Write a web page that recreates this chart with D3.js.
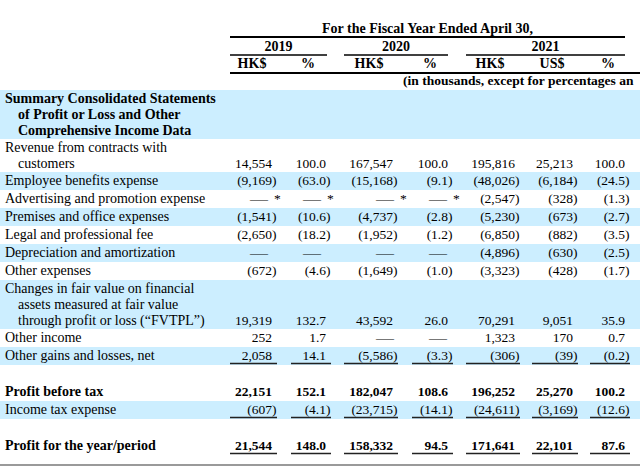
<!DOCTYPE html>
<html>
<head>
<meta charset="utf-8">
<script src="https://cdn.jsdelivr.net/npm/d3@7"></script>
<style>
  html, body { margin: 0; padding: 0; background: #fff; }
  svg { display: block; }
</style>
</head>
<body>
<svg id="chart" width="640" height="467"></svg>
<script>
// ---------- DATA ----------
const tableTitle = "For the Fiscal Year Ended April 30,";
const years = ["2019", "2020", "2021"];
const currencyHeaders = ["HK$", "%", "HK$", "%", "HK$", "US$", "%"];
const unitsNote = "(in thousands, except for percentages an";
const sectionTitle = ["Summary Consolidated Statements", "of Profit or Loss and Other", "Comprehensive Income Data"];

const rowLabels = [
  ["Revenue from contracts with", "customers"],
  ["Employee benefits expense"],
  ["Advertising and promotion expense"],
  ["Premises and office expenses"],
  ["Legal and professional fee"],
  ["Depreciation and amortization"],
  ["Other expenses"],
  ["Changes in fair value on financial", "assets measured at fair value", "through profit or loss (\u201cFVTPL\u201d)"],
  ["Other income"],
  ["Other gains and losses, net"],
  ["Profit before tax"],
  ["Income tax expense"],
  ["Profit for the year/period"]
];

// null = "—", "*" = "— *" (amount less than 0.1)
const hk2019  = [14554, -9169, "*", -1541, -2650, null, -672, 19319, 252, 2058, 22151, -607, 21544];
const pct2019 = [100.0, -63.0, "*", -10.6, -18.2, null, -4.6, 132.7, 1.7, 14.1, 152.1, -4.1, 148.0];
const hk2020  = [167547, -15168, "*", -4737, -1952, null, -1649, 43592, null, -5586, 182047, -23715, 158332];
const pct2020 = [100.0, -9.1, "*", -2.8, -1.2, null, -1.0, 26.0, null, -3.3, 108.6, -14.1, 94.5];
const hk2021  = [195816, -48026, -2547, -5230, -6850, -4896, -3323, 70291, 1323, -306, 196252, -24611, 171641];
const us2021  = [25213, -6184, -328, -673, -882, -630, -428, 9051, 170, -39, 25270, -3169, 22101];
const pct2021 = [100.0, -24.5, -1.3, -2.7, -3.5, -2.5, -1.7, 35.9, 0.7, -0.2, 100.2, -12.6, 87.6];

const boldRows = [10, 12];
const underlinedRows = [9, 11, 12];
const blankBefore = [10, 12];

// ---------- LAYOUT ----------
const W = 640, H = 467;
const FONT = "'Liberation Serif','Times New Roman',serif";
const FS_LABEL = 14;
const FS_NUM = 13.5;
const BLUE = "#CCEEFF";

const colKeys = ["hk2019", "pct2019", "hk2020", "pct2020", "hk2021", "us2021", "pct2021"];
const columns = [hk2019, pct2019, hk2020, pct2020, hk2021, us2021, pct2021];
const colKind = ["amt", "pct", "amt", "pct", "amt", "amt", "pct"];

const xRight = d3.scaleOrdinal().domain(colKeys).range([272, 326, 393, 448, 515, 573, 625]);
const xLeft = d3.scaleOrdinal().domain(colKeys).range([230, 291, 344, 412, 466, 532, 590]);
const xHeadCenter = d3.scaleOrdinal().domain(colKeys).range([252, 308, 369, 430, 490, 552, 608]);
const xDashRight = d3.scaleOrdinal().domain(colKeys).range([268, 321, 394, 447, 513, 571, 623]);
const yearSpan = d3.scaleOrdinal().domain(years).range([[230, 327], [344, 448], [466, 625]]);

const fmtAmt = d3.format(",");
const fmtPct = d3.format(".1f");

const svg = d3.select("#chart");
svg.append("rect").attr("width", W).attr("height", H).attr("fill", "#fff");

// ---------- rows geometry ----------
const rowH = n => n === 1 ? 18 : 16 * n + 1;
let y = 90;
const sectionBox = { y0: y, h: rowH(sectionTitle.length) };
y += sectionBox.h;
const rows = rowLabels.map((lab, i) => {
  if (blankBefore.includes(i)) y += 18;
  const r = { i, lab, y0: y, h: rowH(lab.length) };
  y += r.h;
  return r;
});

// shading
svg.append("rect").attr("x", 0).attr("y", sectionBox.y0).attr("width", W).attr("height", sectionBox.h).attr("fill", BLUE);
svg.selectAll("rect.band").data(rows.filter(r => r.i % 2 === 1)).join("rect")
  .attr("class", "band")
  .attr("x", 0).attr("y", r => r.y0).attr("width", W).attr("height", r => r.h)
  .attr("fill", BLUE);

const txt = (sel, fs) => sel.attr("font-family", FONT).attr("font-size", fs || FS_LABEL).attr("fill", "#000");

// ---------- header ----------
txt(svg.append("text")).attr("x", 427.5).attr("y", 33).attr("text-anchor", "middle")
  .attr("font-weight", "bold").text(tableTitle);
svg.append("line").attr("x1", 230).attr("x2", 625).attr("y1", 37).attr("y2", 37)
  .attr("stroke", "#000").attr("stroke-width", 2);

years.forEach(yr => {
  const [a, b] = yearSpan(yr);
  txt(svg.append("text")).attr("x", (a + b) / 2).attr("y", 51).attr("text-anchor", "middle")
    .attr("font-weight", "bold").text(yr);
  svg.append("line").attr("x1", a).attr("x2", b).attr("y1", 55).attr("y2", 55)
    .attr("stroke", "#000").attr("stroke-width", 1.6);
});

colKeys.forEach((k, j) => {
  txt(svg.append("text")).attr("x", xHeadCenter(k)).attr("y", 68).attr("text-anchor", "middle")
    .attr("font-weight", "bold").text(currencyHeaders[j]);
});
svg.append("line").attr("x1", 230).attr("x2", W).attr("y1", 73).attr("y2", 73)
  .attr("stroke", "#000").attr("stroke-width", 2);

txt(svg.append("text"), 13.5).attr("x", 403).attr("y", 85).attr("font-weight", "bold").text(unitsNote);

// ---------- section title ----------
sectionTitle.forEach((line, li) => {
  txt(svg.append("text")).attr("x", li === 0 ? 5 : 18).attr("y", sectionBox.y0 + 13 + li * 16)
    .attr("font-weight", "bold").text(line);
});

// ---------- body ----------
rows.forEach(r => {
  const bold = boldRows.includes(r.i);
  r.lab.forEach((line, li) => {
    txt(svg.append("text")).attr("x", li === 0 ? 5 : 18).attr("y", r.y0 + 13 + li * 16)
      .attr("font-weight", bold ? "bold" : "normal").text(line);
  });
  const base = r.y0 + 13 + (r.lab.length - 1) * 16;
  colKeys.forEach((k, j) => {
    const v = columns[j][r.i];
    const g = svg.append("g");
    if (v === null || v === "*") {
      txt(g.append("text"), FS_NUM).attr("x", xDashRight(k) - 18).attr("y", base)
        .attr("textLength", 18).attr("lengthAdjust", "spacingAndGlyphs").text("\u2014");
      if (v === "*") {
        txt(g.append("text"), FS_NUM).attr("x", xDashRight(k) + 6).attr("y", base).text("*");
      }
    } else {
      const f = colKind[j] === "pct" ? fmtPct : fmtAmt;
      const s = f(Math.abs(v));
      txt(g.append("text"), FS_NUM).attr("x", xRight(k)).attr("y", base).attr("text-anchor", "end")
        .attr("font-weight", bold ? "bold" : "normal").text(v < 0 ? "(" + s : s);
      if (v < 0) {
        txt(g.append("text"), FS_NUM).attr("x", xRight(k)).attr("y", base)
          .attr("font-weight", bold ? "bold" : "normal").text(")");
      }
    }
    if (underlinedRows.includes(r.i)) {
      g.append("line").attr("x1", xLeft(k)).attr("x2", xRight(k) + 5)
        .attr("y1", r.y0 + r.h - 1.5).attr("y2", r.y0 + r.h - 1.5)
        .attr("stroke", "#222").attr("stroke-width", 1.5);
    }
  });
});

// bottom rule
svg.append("line").attr("x1", 0).attr("x2", W).attr("y1", 465).attr("y2", 465)
  .attr("stroke", "#9a9a9a").attr("stroke-width", 2);
</script>
</body>
</html>
